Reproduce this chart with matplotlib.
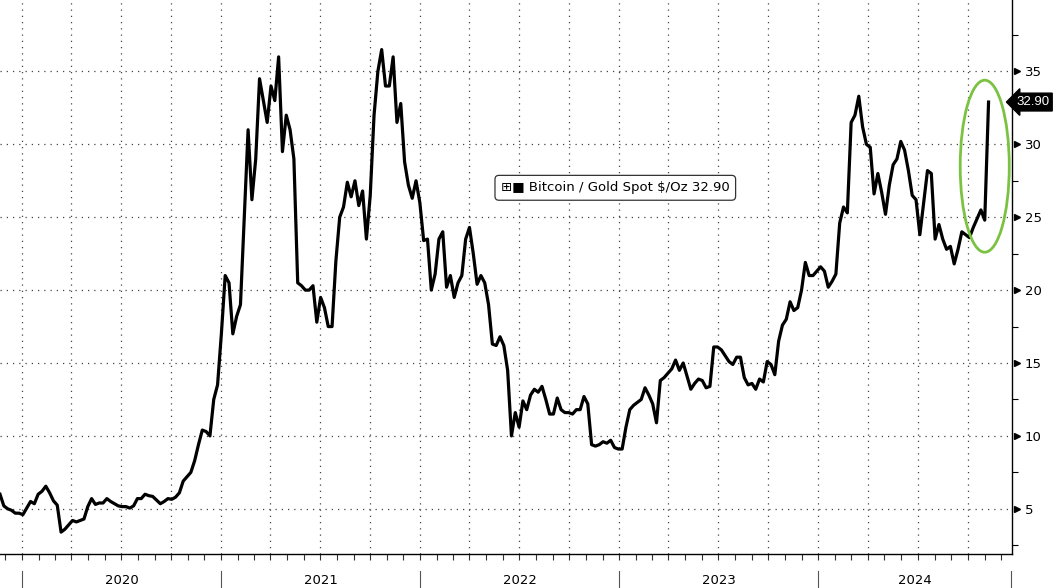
import matplotlib
matplotlib.use('Agg')
import matplotlib.pyplot as plt
import matplotlib.dates as mdates
import matplotlib.transforms as mtransforms
from matplotlib.patches import Ellipse
from matplotlib.ticker import MultipleLocator, NullFormatter
import pandas as pd

# weekly Bitcoin / Gold ratio
start_date = '2019-11-22'
btc_gold = [
    6.0, 5.2, 5.0, 4.9, 4.7, 4.7, 4.6, 5.05, 5.5, 5.35,
    6.0, 6.2, 6.55, 6.1, 5.55, 5.25, 3.4, 3.6, 3.9, 4.2,
    4.1, 4.2, 4.3, 5.15, 5.7, 5.3, 5.4, 5.4, 5.7, 5.5,
    5.35, 5.2, 5.15, 5.15, 5.05, 5.2, 5.7, 5.7, 6.0, 5.9,
    5.85, 5.6, 5.35, 5.5, 5.7, 5.65, 5.8, 6.1, 6.9, 7.2,
    7.5, 8.3, 9.4, 10.4, 10.3, 10.0, 12.5, 13.5, 17.0, 21.0,
    20.5, 17.0, 18.2, 19.0, 25.0, 31.0, 26.2, 29.0, 34.5, 33.0,
    31.5, 34.0, 33.0, 36.0, 29.5, 32.0, 31.0, 29.0, 20.5, 20.3,
    20.0, 20.0, 20.3, 17.8, 19.5, 18.8, 17.5, 17.5, 22.0, 25.0,
    25.7, 27.4, 26.4, 27.5, 25.8, 26.8, 23.5, 26.5, 32.0, 35.0,
    36.5, 34.0, 34.0, 36.0, 31.5, 32.8, 28.8, 27.2, 26.3, 27.5,
    26.0, 23.4, 23.5, 20.0, 21.1, 23.5, 24.0, 20.2, 21.0, 19.5,
    20.5, 21.0, 23.5, 24.3, 22.5, 20.4, 21.0, 20.5, 19.0, 16.3,
    16.2, 16.8, 16.2, 14.5, 10.0, 11.6, 10.6, 12.4, 11.8, 12.8,
    13.2, 13.0, 13.4, 12.5, 11.5, 11.5, 12.6, 11.8, 11.6, 11.6,
    11.5, 11.8, 11.8, 12.7, 12.2, 9.4, 9.3, 9.4, 9.6, 9.5,
    9.7, 9.2, 9.1, 9.1, 10.6, 11.8, 12.1, 12.3, 12.5, 13.3,
    12.8, 12.2, 10.9, 13.8, 14.0, 14.3, 14.6, 15.2, 14.5, 15.0,
    14.1, 13.2, 13.6, 13.9, 13.8, 13.3, 13.4, 16.1, 16.1, 15.9,
    15.5, 15.1, 14.9, 15.4, 15.4, 14.0, 13.5, 13.6, 13.2, 13.9,
    13.7, 15.1, 14.9, 14.2, 16.5, 17.6, 18.0, 19.2, 18.6, 18.8,
    20.0, 21.9, 21.0, 21.0, 21.3, 21.6, 21.3, 20.2, 20.6, 21.1,
    24.6, 25.7, 25.3, 31.5, 32.0, 33.3, 31.2, 30.0, 29.8, 26.6,
    28.0, 26.7, 25.2, 27.2, 28.6, 29.0, 30.2, 29.6, 28.2, 26.5,
    26.2, 23.8, 26.0, 28.2, 28.0, 23.5, 24.5, 23.5, 22.8, 23.0,
    21.8, 22.8, 24.0, 23.8, 23.6, 24.3, 24.9, 25.5, 24.8, 32.9,
]
dates = pd.date_range(start_date, periods=len(btc_gold), freq='7D')

year_labels = ['2020', '2021', '2022', '2023', '2024']
y_ticks = [5, 10, 15, 20, 25, 30, 35]
last_value = 32.90
legend_label = 'Bitcoin / Gold Spot \\$/Oz 32.90'


def plot_btc_gold(filename: str = 'out.png') -> None:
    fig = plt.figure(figsize=(10.55, 5.88), dpi=100)
    ax = fig.add_axes([0.0, 1 - 554 / 588, 1012 / 1055, 554 / 588])

    x_left = pd.Timestamp('2019-11-22')
    x_right = pd.Timestamp('2024-12-21')

    ax.plot(dates, btc_gold, color='black', linewidth=2.3, solid_joinstyle='round', zorder=3)
    ax.set_xlim(x_left, x_right)
    ax.set_ylim(1.9, 39.9)

    # spines: only bottom and right
    for side in ['top', 'left']:
        ax.spines[side].set_visible(False)
    ax.spines['bottom'].set_linewidth(1.0)
    ax.spines['right'].set_linewidth(1.0)

    # x axis: quarterly grid, monthly ticks, no labels
    ax.xaxis.set_major_locator(mdates.MonthLocator(bymonth=[1, 4, 7, 10]))
    ax.xaxis.set_minor_locator(mdates.MonthLocator())
    ax.xaxis.set_major_formatter(NullFormatter())
    ax.tick_params(axis='x', which='both', direction='out', length=4, width=0.8, color='#333')

    # y axis on the right
    ax.yaxis.tick_right()
    ax.set_yticks(y_ticks)
    ax.yaxis.set_minor_locator(MultipleLocator(2.5))
    ax.tick_params(axis='y', which='major', length=0, pad=9, labelsize=9.5)
    ax.tick_params(axis='y', which='minor', direction='out', length=4, width=0.8)

    ax.grid(True, which='major', linestyle=(0, (1, 4)), color='#444', linewidth=0.9)

    # triangle tick marks on the right axis
    ty = mtransforms.blended_transform_factory(ax.transAxes, ax.transData)
    for v in y_ticks:
        ax.plot([1.005], [v], marker='>', markersize=5, color='black', transform=ty, clip_on=False)

    # year separators and labels under the axis
    tx = mtransforms.blended_transform_factory(ax.transData, ax.transAxes)
    bounds = [mdates.date2num(pd.Timestamp(f'{y}-01-01')) for y in year_labels]
    bounds.append(mdates.date2num(x_right) - 2)
    for b in bounds:
        ax.plot([b, b], [-0.031, -0.064], color='#555', linewidth=0.8, transform=tx, clip_on=False)
    for label, a, b in zip(year_labels, bounds[:-1], bounds[1:]):
        ax.text((a + b) / 2, -0.048, label, transform=tx, ha='center', va='center', fontsize=9.5)

    # last value tag
    ax.annotate(f'{last_value:.2f}', xy=(1.0, last_value), xycoords=ty,
                xytext=(3, 0), textcoords='offset points', ha='left', va='center',
                color='white', fontsize=9.5, family='Liberation Sans',
                bbox=dict(boxstyle='larrow,pad=0.22', fc='black', ec='black'))

    # legend box
    ax.text(0.608, 0.661, '\u229e\u25a0 ' + legend_label, transform=ax.transAxes,
            ha='center', va='center', fontsize=9.5, zorder=5,
            bbox=dict(boxstyle='round,pad=0.45,rounding_size=0.3', fc='white', ec='#333', lw=0.9))

    # green highlight ellipse
    ell = Ellipse((mdates.date2num(pd.Timestamp('2024-11-01')), 28.5), width=90, height=11.8,
                  fill=False, edgecolor='#7cc242', linewidth=2.0, zorder=4)
    ax.add_patch(ell)

    plt.savefig(filename, dpi=100)
    plt.close(fig)


if __name__ == '__main__':
    plot_btc_gold()
